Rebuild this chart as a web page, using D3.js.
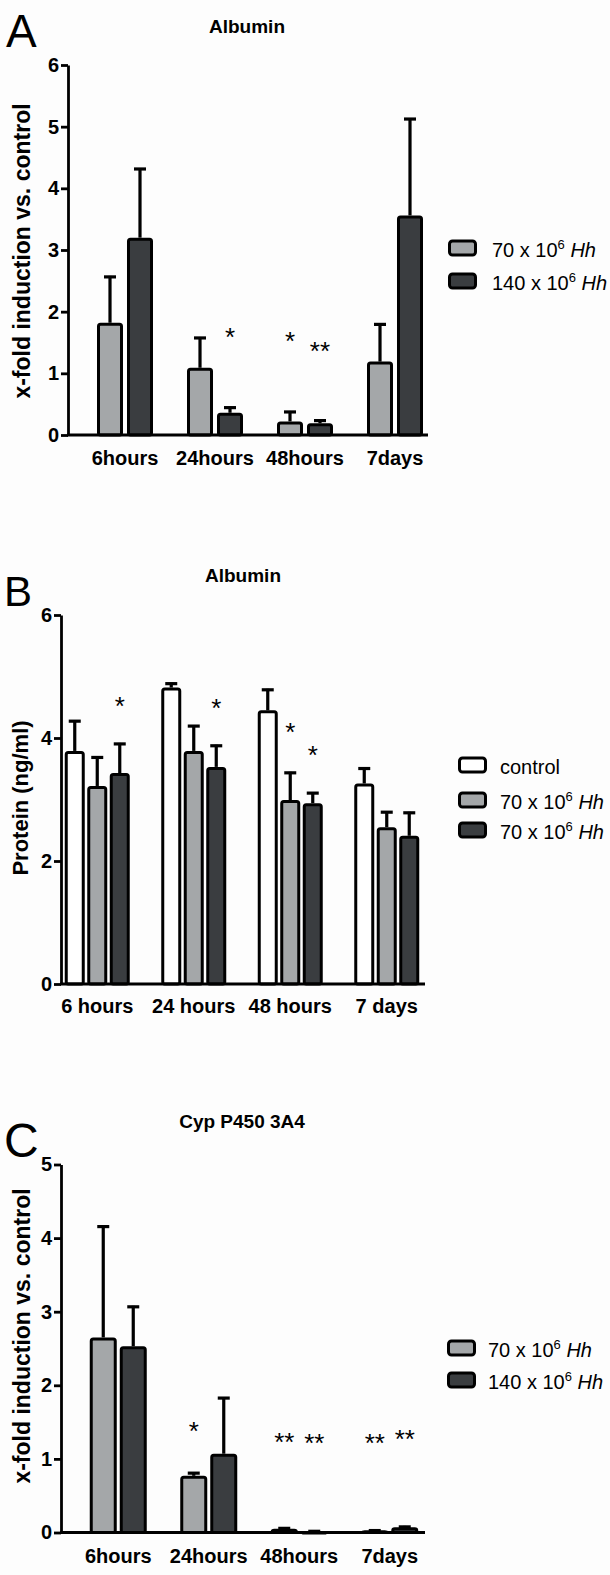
<!DOCTYPE html>
<html>
<head>
<meta charset="utf-8">
<script src="https://cdn.jsdelivr.net/npm/d3@7"></script>
<style>
    body { margin: 0; background: #fff; }
    svg { display: block; font-family: "Liberation Sans", Arial, sans-serif; }
</style>
</head>
<body>
<div id="chart"></div>
<script>
// ---- panel A : Albumin, x-fold induction ----
var groupsA = ["6hours", "24hours", "48hours", "7days"];
var seriesA = ["70 x 10^6 Hh", "140 x 10^6 Hh"];
var meanA70 = [1.82, 1.09, 0.22, 1.19];
var errA70 = [0.76, 0.50, 0.17, 0.62];
var meanA140 = [3.20, 0.36, 0.19, 3.56];
var errA140 = [1.13, 0.10, 0.06, 1.58];
var ticksA = [0, 1, 2, 3, 4, 5, 6];
var starsA = [
    { group: "24hours", series: 1, text: "*", level: 1.69 },
    { group: "48hours", series: 0, text: "*", level: 1.62 },
    { group: "48hours", series: 1, text: "**", level: 1.46 }
];

// ---- panel B : Albumin, protein ----
var groupsB = ["6 hours", "24 hours", "48 hours", "7 days"];
var seriesB = ["control", "70 x 10^6 Hh", "70 x 10^6 Hh"];
var meanBctrl = [3.79, 4.82, 4.45, 3.26];
var errBctrl = [0.50, 0.08, 0.35, 0.26];
var meanB70 = [3.22, 3.79, 2.99, 2.55];
var errB70 = [0.48, 0.42, 0.46, 0.26];
var meanB140 = [3.43, 3.53, 2.94, 2.41];
var errB140 = [0.49, 0.36, 0.18, 0.39];
var ticksB = [0, 2, 4, 6];
var starsB = [
    { group: "6 hours", series: 2, text: "*", level: 4.61 },
    { group: "24 hours", series: 2, text: "*", level: 4.59 },
    { group: "48 hours", series: 1, text: "*", level: 4.20 },
    { group: "48 hours", series: 2, text: "*", level: 3.82 }
];

// ---- panel C : Cyp P450 3A4 ----
var groupsC = ["6hours", "24hours", "48hours", "7days"];
var seriesC = ["70 x 10^6 Hh", "140 x 10^6 Hh"];
var meanC70 = [2.65, 0.77, 0.05, 0.03];
var errC70 = [1.52, 0.05, 0.02, 0.01];
var meanC140 = [2.53, 1.07, 0.02, 0.07];
var errC140 = [0.55, 0.77, 0.01, 0.02];
var ticksC = [0, 1, 2, 3, 4, 5];
var starsC = [
    { group: "24hours", series: 0, text: "*", level: 1.46 },
    { group: "48hours", series: 0, text: "**", level: 1.31 },
    { group: "48hours", series: 1, text: "**", level: 1.30 },
    { group: "7days", series: 0, text: "**", level: 1.30 },
    { group: "7days", series: 1, text: "**", level: 1.35 }
];

var LIGHT = "#a4a7a9", DARK = "#3a3d40";

var svg = d3.select("#chart").append("svg")
    .attr("width", 610)
    .attr("height", 1575);

svg.append("rect").attr("width", 610).attr("height", 1575).attr("fill", "#fdfdfd");

function legendLabel(sel, label, size) {
    // "70 x 10^6 Hh" -> base, superscript, italic part
    var m = label.match(/^(.*)\^(\d+) (.*)$/);
    if (!m) { sel.text(label); return; }
    sel.append("tspan").text(m[1]);
    sel.append("tspan").attr("dy", -8).style("font-size", (size * 0.65) + "px").text(m[2]);
    sel.append("tspan").attr("dy", 8).text("\u00a0");
    sel.append("tspan").style("font-style", "italic").text(m[3]);
}

function drawPanel(cfg) {
    var g = svg.append("g");

    var y = d3.scaleLinear().domain([0, cfg.yMax]).range([cfg.bottom, cfg.top]);
    var x0 = d3.scaleBand().domain(cfg.groups).range(cfg.xRange).padding(0);
    var bw = x0.bandwidth();
    var x1 = d3.scaleBand()
        .domain(d3.range(cfg.series.length))
        .range([bw / 2 - cfg.span / 2, bw / 2 + cfg.span / 2])
        .paddingInner(cfg.gap);

    // flatten values
    var bars = [];
    cfg.means.forEach((arr, s) => {
        arr.forEach((v, i) => {
            bars.push({ group: cfg.groups[i], series: s, mean: v, err: cfg.errs[s][i] });
        });
    });

    // error bars (only the upper half, like the original)
    var eb = g.selectAll(".err").data(bars).enter().append("g");
    eb.append("line")
        .attr("x1", d => x0(d.group) + x1(d.series) + x1.bandwidth() / 2)
        .attr("x2", d => x0(d.group) + x1(d.series) + x1.bandwidth() / 2)
        .attr("y1", d => y(d.mean))
        .attr("y2", d => y(d.mean + d.err))
        .attr("stroke", "#000").attr("stroke-width", 3.2);
    eb.append("line")
        .attr("x1", d => x0(d.group) + x1(d.series) + x1.bandwidth() / 2 - 6)
        .attr("x2", d => x0(d.group) + x1(d.series) + x1.bandwidth() / 2 + 6)
        .attr("y1", d => y(d.mean + d.err) + 1)
        .attr("y2", d => y(d.mean + d.err) + 1)
        .attr("stroke", "#000").attr("stroke-width", 3.2);

    // bars
    g.selectAll(".bar").data(bars).enter().append("rect")
        .attr("x", d => x0(d.group) + x1(d.series) + 1.5)
        .attr("y", d => y(d.mean) + 1.5)
        .attr("width", x1.bandwidth() - 3)
        .attr("height", d => Math.max(0.5, y(0) - y(d.mean) - 1.5))
        .attr("rx", 2)
        .attr("fill", d => cfg.colors[d.series])
        .attr("stroke", "#000")
        .attr("stroke-width", 3);

    // x baseline
    g.append("line")
        .attr("x1", cfg.axisX - 1).attr("x2", cfg.axisEnd)
        .attr("y1", y(0)).attr("y2", y(0))
        .attr("stroke", "#000").attr("stroke-width", 3);

    // y axis
    var yAxis = d3.axisLeft(y).tickValues(cfg.ticks).tickFormat(d3.format("d"))
        .tickSize(7).tickSizeOuter(0).tickPadding(2);
    var ax = g.append("g")
        .attr("transform", "translate(" + cfg.axisX + ",0)")
        .call(yAxis);
    ax.select(".domain").attr("stroke-width", 2.8);
    ax.selectAll(".tick line").attr("stroke-width", 2.8);
    ax.selectAll(".tick text")
        .style("font-size", "20px").style("font-weight", "bold")
        .attr("fill", "#000");

    // x labels
    g.selectAll(".xl").data(cfg.groups).enter().append("text")
        .attr("x", d => x0(d) + bw / 2)
        .attr("y", cfg.labelY)
        .attr("text-anchor", "middle")
        .style("font-size", "20px").style("font-weight", "bold")
        .text(d => d);

    // significance stars
    g.selectAll(".star").data(cfg.stars).enter().append("text")
        .attr("x", d => x0(d.group) + x1(d.series) + x1.bandwidth() / 2)
        .attr("y", d => y(d.level) + 15)
        .attr("text-anchor", "middle")
        .style("font-size", "26px")
        .text(d => d.text);

    // y axis title
    g.append("text")
        .attr("transform", "translate(" + cfg.yTitleX + "," + cfg.yTitleY + ") rotate(-90)")
        .attr("text-anchor", "middle")
        .style("font-size", cfg.yTitleSize + "px").style("font-weight", "bold")
        .text(cfg.yTitle);

    // chart title
    g.append("text")
        .attr("x", cfg.titleX).attr("y", cfg.titleY)
        .attr("text-anchor", "middle")
        .style("font-size", "19px").style("font-weight", "bold")
        .text(cfg.title);

    // panel letter
    g.append("text")
        .attr("x", cfg.letterX).attr("y", cfg.letterY)
        .style("font-size", cfg.letterSize + "px")
        .text(cfg.letter);

    // legend
    var lg = g.selectAll(".leg").data(cfg.series).enter().append("g")
        .attr("transform", (d, i) => "translate(" + cfg.legX + "," + (cfg.legY + cfg.legStep[i]) + ")");
    lg.append("rect")
        .attr("x", 1.5).attr("y", -7)
        .attr("width", 26).attr("height", 14)
        .attr("rx", 3)
        .attr("fill", (d, i) => cfg.colors[i])
        .attr("stroke", "#000").attr("stroke-width", 3);
    lg.append("text")
        .attr("x", cfg.legTextDx).attr("y", 9)
        .style("font-size", "20px")
        .each(function (d) { legendLabel(d3.select(this), d, 20); });
}

drawPanel({
    groups: groupsA, series: seriesA,
    means: [meanA70, meanA140], errs: [errA70, errA140],
    colors: [LIGHT, DARK], ticks: ticksA, stars: starsA,
    yMax: 6, top: 65, bottom: 435,
    xRange: [80, 440], span: 56, gap: 0.133,
    axisX: 68, axisEnd: 428, labelY: 465,
    yTitle: "x-fold induction vs. control", yTitleX: 30, yTitleY: 251, yTitleSize: 23,
    title: "Albumin", titleX: 247, titleY: 33,
    letter: "A", letterX: 6, letterY: 47, letterSize: 46,
    legX: 448, legY: 248, legStep: [0, 33], legTextDx: 44
});

drawPanel({
    groups: groupsB, series: seriesB,
    means: [meanBctrl, meanB70, meanB140], errs: [errBctrl, errB70, errB140],
    colors: ["#ffffff", LIGHT, DARK], ticks: ticksB, stars: starsB,
    yMax: 6, top: 615, bottom: 984,
    xRange: [49, 435], span: 65, gap: 0.111,
    axisX: 61, axisEnd: 425, labelY: 1013,
    yTitle: "Protein (ng/ml)", yTitleX: 28, yTitleY: 798, yTitleSize: 22,
    title: "Albumin", titleX: 243, titleY: 582,
    letter: "B", letterX: 4, letterY: 606, letterSize: 42,
    legX: 458, legY: 765, legStep: [0, 35, 65], legTextDx: 42
});

drawPanel({
    groups: groupsC, series: seriesC,
    means: [meanC70, meanC140], errs: [errC70, errC140],
    colors: [LIGHT, DARK], ticks: ticksC, stars: starsC,
    yMax: 5, top: 1164.5, bottom: 1532.5,
    xRange: [73, 435], span: 57, gap: 0.1,
    axisX: 61, axisEnd: 425, labelY: 1563,
    yTitle: "x-fold induction vs. control", yTitleX: 30, yTitleY: 1336, yTitleSize: 23,
    title: "Cyp P450 3A4", titleX: 242, titleY: 1128,
    letter: "C", letterX: 4, letterY: 1157, letterSize: 48,
    legX: 447, legY: 1348, legStep: [0, 32], legTextDx: 41
});
</script>
</body>
</html>
